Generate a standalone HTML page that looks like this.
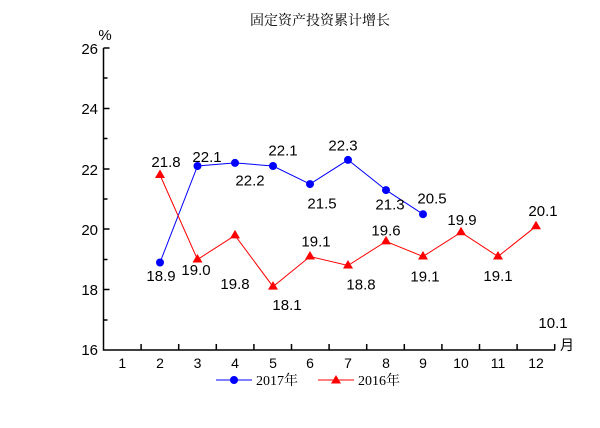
<!DOCTYPE html><html><head><meta charset="utf-8"><style>body{margin:0;background:#fff}</style></head><body>
<svg width="600" height="423" xmlns="http://www.w3.org/2000/svg" font-family="Liberation Sans, sans-serif">
<text x="320" y="25" text-anchor="middle" font-size="14" font-family="Liberation Serif, Noto Serif CJK SC, serif">固定资产投资累计增长</text>
<text x="105" y="40" font-size="15" text-anchor="middle">%</text>
<g stroke="#000" stroke-width="1.5" fill="none">
<path d="M103.5,48 V350 H555"/>
<path d="M103.5,48h6M103.5,78h4M103.5,108.5h6M103.5,138.5h4M103.5,169h6M103.5,199h4M103.5,229h6M103.5,259.5h4M103.5,289.5h6M103.5,320h4"/>
<path d="M141.1,350v-6M178.7,350v-6M216.3,350v-6M253.9,350v-6M291.5,350v-6M329.1,350v-6M366.7,350v-6M404.3,350v-6M441.9,350v-6M479.5,350v-6M517.1,350v-6M554.7,350v-6"/>
</g>
<g font-size="15" text-anchor="end">
<text x="98" y="54">26</text><text x="98" y="114">24</text><text x="98" y="175">22</text><text x="98" y="235">20</text><text x="98" y="295">18</text><text x="98" y="355">16</text>
</g>
<g font-size="14" text-anchor="middle">
<text x="122.3" y="368">1</text><text x="160" y="368">2</text><text x="197.5" y="368">3</text><text x="235" y="368">4</text><text x="273" y="368">5</text><text x="310" y="368">6</text><text x="348" y="368">7</text><text x="386" y="368">8</text><text x="423" y="368">9</text><text x="461" y="368">10</text><text x="498" y="368">11</text><text x="536" y="368">12</text>
</g>
<text x="560" y="350" font-size="14" font-family="Liberation Sans, Noto Sans CJK SC, sans-serif">月</text>
<polyline fill="none" stroke="#0000ff" stroke-width="1" points="160,262.5 197.5,166 235,162.9 273,166 310,184.1 348,159.9 386,190.1 423,214.2"/>
<g fill="#0000ff"><circle cx="160" cy="262.5" r="4"/><circle cx="197.5" cy="166" r="4"/><circle cx="235" cy="162.9" r="4"/><circle cx="273" cy="166" r="4"/><circle cx="310" cy="184.1" r="4"/><circle cx="348" cy="159.9" r="4"/><circle cx="386" cy="190.1" r="4"/><circle cx="423" cy="214.2" r="4"/></g>
<polyline fill="none" stroke="#ff0000" stroke-width="1" points="160,175 197.5,259.5 235,235.4 273,286.6 310,256.5 348,265.5 386,241.4 423,256.5 461,232.3 498,256.5 536,226.3"/>
<g fill="#ff0000">
<path d="M160,169.5l5,8.5h-10z"/><path d="M197.5,254l5,8.5h-10z"/><path d="M235,229.9l5,8.5h-10z"/><path d="M273,281.1l5,8.5h-10z"/><path d="M310,251l5,8.5h-10z"/><path d="M348,260l5,8.5h-10z"/><path d="M386,235.9l5,8.5h-10z"/><path d="M423,251l5,8.5h-10z"/><path d="M461,226.8l5,8.5h-10z"/><path d="M498,251l5,8.5h-10z"/><path d="M536,220.8l5,8.5h-10z"/>
</g>
<g font-size="15" text-anchor="middle">
<text x="161" y="281">18.9</text><text x="207" y="162">22.1</text><text x="250" y="185.5">22.2</text><text x="283" y="155.5">22.1</text><text x="322" y="208.5">21.5</text><text x="343" y="150.5">22.3</text><text x="390" y="209.5">21.3</text><text x="432" y="203.5">20.5</text>
<text x="166" y="167">21.8</text><text x="196" y="275">19.0</text><text x="235" y="289">19.8</text><text x="287" y="310">18.1</text><text x="316" y="246.5">19.1</text><text x="361" y="289.5">18.8</text><text x="386" y="235.5">19.6</text><text x="425" y="281.5">19.1</text><text x="462" y="225">19.9</text><text x="498" y="281">19.1</text><text x="543" y="216">20.1</text><text x="553" y="328">10.1</text>
</g>
<line x1="216" y1="380" x2="252" y2="380" stroke="#0000ff"/><circle cx="234" cy="380" r="4" fill="#0000ff"/>
<text x="256" y="385" font-size="14" font-family="Liberation Serif, Noto Serif CJK SC, serif">2017年</text>
<line x1="318" y1="380" x2="354" y2="380" stroke="#ff0000"/><path d="M336,375l5,8.5h-10z" fill="#ff0000"/>
<text x="358" y="385" font-size="14" font-family="Liberation Serif, Noto Serif CJK SC, serif">2016年</text>
</svg></body></html>
